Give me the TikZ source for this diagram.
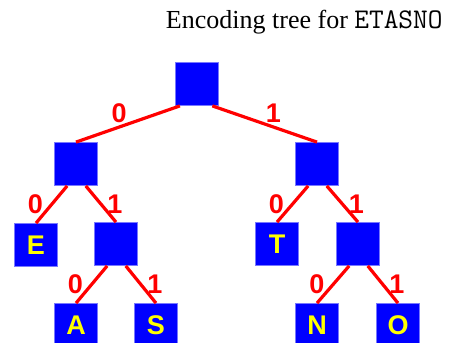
\documentclass[tikz,border=0pt]{standalone}
\usepackage{fontspec}
\setmainfont{Liberation Serif}
\newfontfamily\pixfont{Liberation Sans}
\usepackage{tikz}
\usetikzlibrary{positioning}

\definecolor{boxblue}{RGB}{0,0,255}
\definecolor{boxrim}{RGB}{120,120,255}
\definecolor{edgered}{RGB}{255,0,0}
\definecolor{letteryellow}{RGB}{255,255,0}

\tikzset{
    treebox/.style={draw=boxrim,line width=0.8pt,fill=boxblue,rectangle,minimum size=43pt,inner sep=0pt,
        font=\pixfont\bfseries\fontsize{27}{27}\selectfont,text=letteryellow},
    edge/.style={draw=edgered,line width=3.2pt},
    bit/.style={font=\pixfont\bfseries\fontsize{27}{27}\selectfont,text=edgered,inner sep=1pt}
}

\begin{document}
\begin{tikzpicture}[x=1pt,y=-1pt]
    \useasboundingbox (0,0) rectangle (451,343);
    \clip (0,0) rectangle (451,343);

    \node[anchor=base east,font=\fontsize{26}{26}\selectfont] (title) at (446,28)
        {Encoding tree for {\ttfamily\fontsize{28.5}{28.5}\selectfont ETASNO}};

    % inner nodes and leaves
    \foreach \name/\x/\y/\txt in {root/197/84/,L/76/164/,R/317/164/,E/36/245/E,LR/116/244/,
                                  T/277/244/T,RR/358/244/,A/76/325/A,S/156/325/S,N/317/325/N,O/398/325/O}{
        \node[treebox] (\name) at (\x,\y) {\txt};
    }

    % top level
    \draw[edge] (root.232) -- (L.north) node[bit,pos=.5,above left=-2pt] {0};
    \draw[edge] (root.305) -- (R.north) node[bit,pos=.5,above right=-2pt] {1};

    % lower levels
    \foreach \p/\c in {L/E,LR/A,R/T,RR/N}{
        \draw[edge] (\p.248) -- (\c.north) node[bit,pos=.5,left=6pt] {0};
    }
    \foreach \p/\c in {L/LR,LR/S,R/RR,RR/O}{
        \draw[edge] (\p.294) -- (\c.north) node[bit,pos=.5,right=4pt] {1};
    }
\end{tikzpicture}
\end{document}
